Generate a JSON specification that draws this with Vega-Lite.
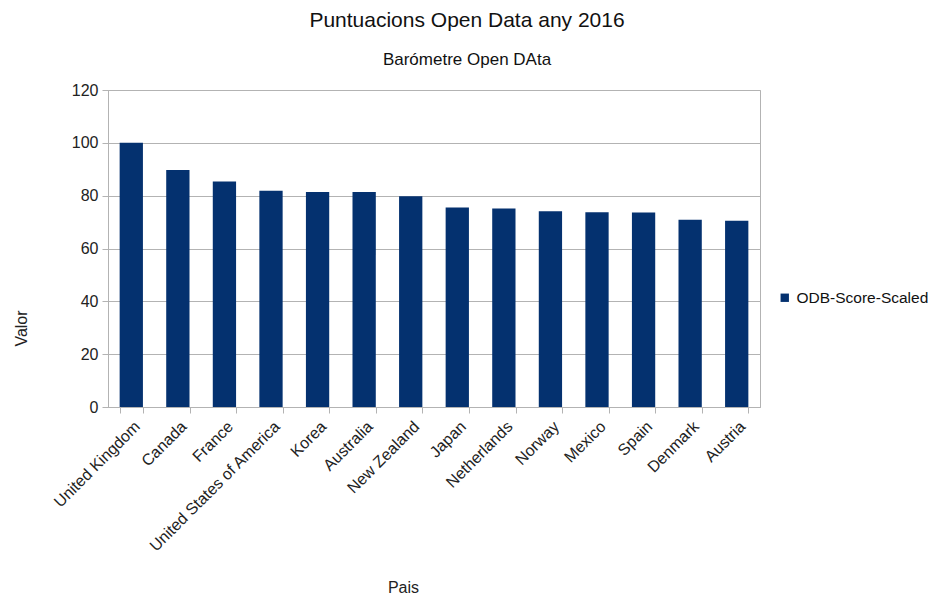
{
  "$schema": "https://vega.github.io/schema/vega-lite/v6.json",
  "width": 652,
  "height": 317,
  "autosize": {"type": "none"},
  "padding": {"left": 108, "top": 90, "right": 176, "bottom": 191},
  "background": "white",
  "title": {
    "text": "Puntuacions Open Data any 2016",
    "subtitle": "Barómetre Open DAta",
    "anchor": "middle",
    "dx": 33,
    "font": "Liberation Sans",
    "fontSize": 21,
    "fontWeight": "normal",
    "color": "#111111",
    "subtitleFont": "Liberation Sans",
    "subtitleFontSize": 17,
    "subtitleColor": "#111111",
    "subtitlePadding": 21,
    "offset": 14
  },
  "data": {
    "values": [
      {"Pais": "United Kingdom", "Valor": 100, "serie": "ODB-Score-Scaled"},
      {"Pais": "Canada", "Valor": 89.7, "serie": "ODB-Score-Scaled"},
      {"Pais": "France", "Valor": 85.4, "serie": "ODB-Score-Scaled"},
      {"Pais": "United States of America", "Valor": 81.9, "serie": "ODB-Score-Scaled"},
      {"Pais": "Korea", "Valor": 81.4, "serie": "ODB-Score-Scaled"},
      {"Pais": "Australia", "Valor": 81.4, "serie": "ODB-Score-Scaled"},
      {"Pais": "New Zealand", "Valor": 79.8, "serie": "ODB-Score-Scaled"},
      {"Pais": "Japan", "Valor": 75.5, "serie": "ODB-Score-Scaled"},
      {"Pais": "Netherlands", "Valor": 75.1, "serie": "ODB-Score-Scaled"},
      {"Pais": "Norway", "Valor": 74.1, "serie": "ODB-Score-Scaled"},
      {"Pais": "Mexico", "Valor": 73.7, "serie": "ODB-Score-Scaled"},
      {"Pais": "Spain", "Valor": 73.6, "serie": "ODB-Score-Scaled"},
      {"Pais": "Denmark", "Valor": 70.9, "serie": "ODB-Score-Scaled"},
      {"Pais": "Austria", "Valor": 70.5, "serie": "ODB-Score-Scaled"}
    ]
  },
  "mark": {"type": "bar"},
  "encoding": {
    "x": {
      "field": "Pais",
      "type": "nominal",
      "sort": null,
      "scale": {"paddingInner": 0.5, "paddingOuter": 0.25},
      "axis": {
        "title": "Pais",
        "labelAngle": -45,
        "labelAlign": "right",
        "labelBaseline": "top",
        "labelPadding": 5,
        "labelFontSize": 16,
        "tickBand": "extent",
        "tickSize": 6,
        "titleX": 295,
        "titleY": 180,
        "titleAlign": "center",
        "titleBaseline": "middle",
        "titleFontSize": 16
      }
    },
    "y": {
      "field": "Valor",
      "type": "quantitative",
      "scale": {"domain": [0, 120]},
      "axis": {
        "title": "Valor",
        "values": [0, 20, 40, 60, 80, 100, 120],
        "labelFontSize": 16,
        "labelPadding": 4,
        "tickSize": 6,
        "titleAngle": -90,
        "titleX": -87,
        "titleY": 238,
        "titleAlign": "center",
        "titleBaseline": "middle",
        "titleFontSize": 16
      }
    },
    "color": {
      "field": "serie",
      "type": "nominal",
      "scale": {"range": ["#04316f"]},
      "legend": {
        "title": null,
        "orient": "none",
        "legendX": 669,
        "legendY": 200,
        "symbolType": "square",
        "symbolSize": 70,
        "labelFontSize": 15.5
      }
    }
  },
  "config": {
    "font": "Liberation Sans",
    "view": {"stroke": "#b3b3b3"},
    "axis": {
      "gridColor": "#b3b3b3",
      "domainColor": "#b3b3b3",
      "tickColor": "#b3b3b3",
      "labelColor": "#222222",
      "titleColor": "#222222",
      "titleFontWeight": "normal",
      "labelFont": "Liberation Sans",
      "titleFont": "Liberation Sans"
    },
    "axisX": {"grid": false},
    "legend": {"labelFont": "Liberation Sans", "labelColor": "#111111"}
  }
}
